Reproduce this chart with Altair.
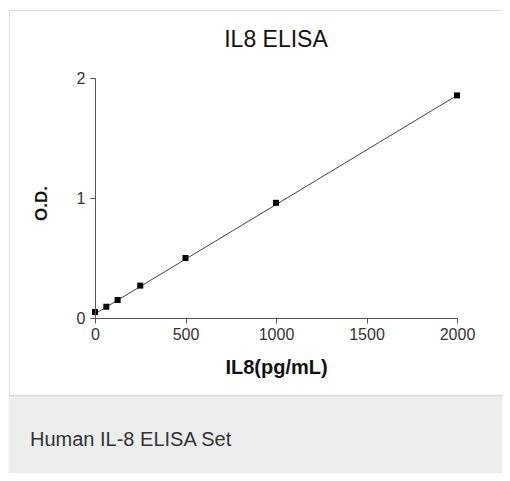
import altair as alt
import pandas as pd

# ---- data ----
conc = [0, 62.5, 125, 250, 500, 1000, 2000]
od = [0.05, 0.094, 0.15, 0.27, 0.50, 0.96, 1.855]
fit_conc = [0, 2000]
fit_od = [0.035, 1.855]
x_ticks = [0, 500, 1000, 1500, 2000]
y_ticks = [0, 1, 2]
chart_title = "IL8 ELISA"
x_title = "IL8(pg/mL)"
y_title = "O.D."
caption = "Human IL-8 ELISA Set"

FONT = "Liberation Sans"

pts = pd.DataFrame({"conc": conc, "od": od})
fit = pd.DataFrame({"conc": fit_conc, "od": fit_od})
cap = pd.DataFrame({"caption": [caption]})

xs = alt.Scale(domain=[0, 2000], nice=False)
ys = alt.Scale(domain=[0, 2], nice=False)

x_axis = alt.Axis(
    values=x_ticks, format="d", labelFlush=False, labelOverlap=False, grid=False,
    domainColor="#555", tickColor="#555", tickSize=5,
    labelFont=FONT, labelFontSize=16, labelColor="#333", labelPadding=3,
    title=x_title, titleFont=FONT, titleFontSize=20, titleFontWeight="bold",
    titleColor="#111", titleY=55, titleBaseline="alphabetic", zindex=1,
)
y_axis = alt.Axis(
    values=y_ticks, format=".0f", labelOverlap=False, grid=False,
    domainColor="#555", tickColor="#555", tickSize=5,
    labelFont=FONT, labelFontSize=16, labelColor="#333", labelPadding=5,
    title=y_title, titleFont=FONT, titleFontSize=17, titleFontWeight="bold",
    titleColor="#111", titleX=-54, titleY=125, titleBaseline="middle",
    titleAlign="center", titleAngle=270, zindex=1,
)

# decorative panel background (card frame and caption strip)
strip = alt.Chart(cap).mark_rect(fill="#eceeed", stroke="#eceeed").encode(
    x=alt.value(-86), x2=alt.value(430), y=alt.value(318), y2=alt.value(430)
)
frame_top = alt.Chart(cap).mark_rule(color="#dcdcdc", strokeWidth=1).encode(
    x=alt.value(-86), x2=alt.value(430), y=alt.value(-67.5)
)
frame_left = alt.Chart(cap).mark_rule(color="#dcdcdc", strokeWidth=1).encode(
    x=alt.value(-85.5), y=alt.value(-68), y2=alt.value(318)
)
frame_bottom = alt.Chart(cap).mark_rule(color="#d6d6d6", strokeWidth=1).encode(
    x=alt.value(-86), x2=alt.value(430), y=alt.value(317.5)
)
caption_text = alt.Chart(cap).mark_text(
    font=FONT, fontSize=20, color="#333", align="left", baseline="middle"
).encode(text="caption:N", x=alt.value(-65), y=alt.value(362))

line = alt.Chart(fit).mark_line(color="#444", strokeWidth=1).encode(
    x=alt.X("conc:Q", scale=xs, axis=x_axis),
    y=alt.Y("od:Q", scale=ys, axis=y_axis),
)
points = alt.Chart(pts).mark_point(
    shape="square", filled=True, color="#000", size=36, opacity=1
).encode(x=alt.X("conc:Q", scale=xs), y=alt.Y("od:Q", scale=ys))

chart = alt.layer(
    strip, frame_top, frame_left, frame_bottom, caption_text, line, points
).properties(
    width=362,
    height=240,
    title=alt.TitleParams(
        text=chart_title, font=FONT, fontSize=23, fontWeight="normal",
        color="#111", anchor="middle", offset=-60, baseline="alphabetic",
    ),
    autosize=alt.AutoSizeParams(type="none"),
    padding={"left": 87, "top": 70, "right": 45, "bottom": 155},
    background="white",
).configure_view(strokeWidth=0)

chart.save("out.html", embed_options={"renderer": "svg", "actions": False})
